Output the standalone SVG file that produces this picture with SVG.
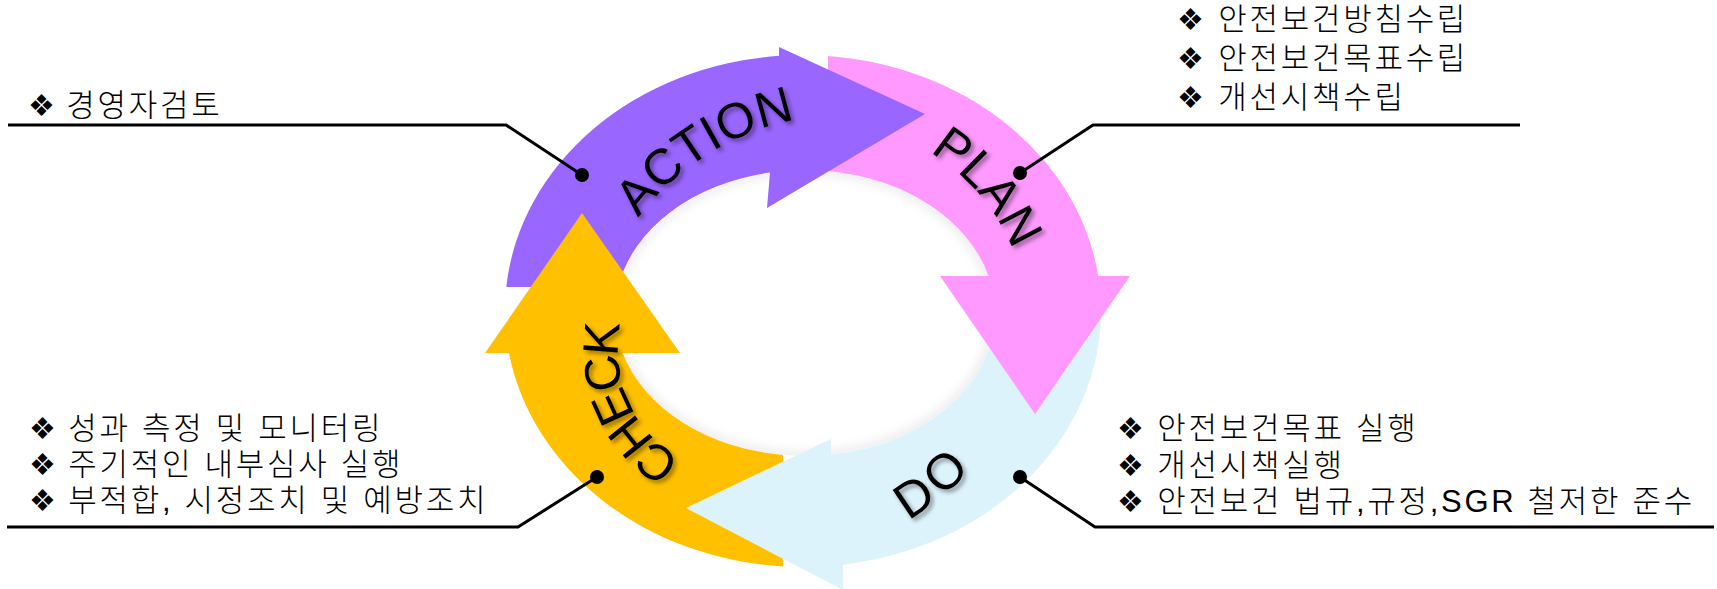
<svg xmlns="http://www.w3.org/2000/svg" xmlns:xlink="http://www.w3.org/1999/xlink" width="1717" height="589" viewBox="0 0 1717 589">
<style>
  .lbl { font-family: 'Liberation Sans', 'DejaVu Sans', sans-serif; font-size: 50px; fill: #000; filter: url(#ts); }
  .txt { font-family: 'Liberation Sans', 'Noto Sans CJK KR', 'DejaVu Sans', sans-serif; font-size: 31px; font-weight: 300; letter-spacing: 2.7px; fill: #000; }
  .bul { font-family: 'DejaVu Sans', sans-serif; font-size: 30px; letter-spacing: 0; }
  .conn { stroke: #000; stroke-width: 3; fill: none; stroke-linejoin: miter; }
  .dot { fill: #000; }
</style>
<defs>
  <filter id="ts" x="-20%" y="-20%" width="140%" height="140%">
    <feDropShadow dx="3" dy="3" stdDeviation="2" flood-color="#000" flood-opacity="0.4"/>
  </filter>
  <filter id="soft" x="-10%" y="-10%" width="120%" height="120%">
    <feGaussianBlur stdDeviation="5"/>
  </filter>
  <clipPath id="hole"><ellipse cx="805" cy="313" rx="190" ry="143"/></clipPath>
  <path id="pAction" d="M589.9,329 A259,259 0 0 1 916.4,125"/>
  <path id="pPlan" d="M825.5,121.1 A209,209 0 0 1 1027.2,357.3"/>
  <path id="pDo" d="M767.5,542.7 A216,216 0 0 0 1021,330"/>
  <path id="pCheck" d="M709.2,469.8 A123,123 0 0 1 629.5,299"/>
</defs>
<rect width="1717" height="589" fill="#fff"/>
<g clip-path="url(#hole)">
  <ellipse cx="805" cy="313" rx="190" ry="143" fill="none" stroke="#000" stroke-opacity="0.07" stroke-width="10" filter="url(#soft)"/>
</g>

<g id="do">
  <path fill="#DDF3FC" d="M1100.4,295 A298,256 0 0 1 843,564.7 L843,590 L686,508 L831,439 L831,454.7 A190,143 0 0 0 993.5,295 Z"/>
  <text class="lbl" letter-spacing="6"><textPath xlink:href="#pDo" href="#pDo" startOffset="50%" text-anchor="middle">DO</textPath></text>
  <text class="txt" y="439"><tspan class="bul" x="1117">❖</tspan><tspan x="1146"> 안전보건목표 실행</tspan></text>
  <text class="txt" y="476"><tspan class="bul" x="1117">❖</tspan><tspan x="1146"> 개선시책실행</tspan></text>
  <text class="txt" y="512"><tspan class="bul" x="1117">❖</tspan><tspan x="1146"> 안전보건 법규,규정,SGR 철저한 준수</tspan></text>
</g>

<g id="plan">
  <path fill="#FF99FF" d="M828,55.9 A298,256 0 0 1 1098.2,276 L1130,276 L1035,414 L940,276 L988.5,276 A190,143 0 0 0 828,171 Z"/>
  <text class="lbl"><textPath xlink:href="#pPlan" href="#pPlan" startOffset="50%" text-anchor="middle">PLAN</textPath></text>
  <text class="txt" y="30"><tspan class="bul" x="1177">❖</tspan><tspan x="1207"> 안전보건방침수립</tspan></text>
  <text class="txt" y="69"><tspan class="bul" x="1177">❖</tspan><tspan x="1207"> 안전보건목표수립</tspan></text>
  <text class="txt" y="108"><tspan class="bul" x="1177">❖</tspan><tspan x="1207"> 개선시책수립</tspan></text>
</g>

<g id="action">
  <path fill="#9966FF" d="M506.3,287 A298,256 0 0 1 779,55.8 L779,47 L925,114 L767,208 L770,172.5 A190,143 0 0 0 618.2,287 Z"/>
  <text class="lbl"><textPath xlink:href="#pAction" href="#pAction" startOffset="50%" text-anchor="middle">ACTION</textPath></text>
  <text class="txt" y="116"><tspan class="bul" x="28">❖</tspan><tspan x="55"> 경영자검토</tspan></text>
</g>

<g id="check">
  <path fill="#FFC000" d="M783,455 L783,461.8 L686,508 L783,558.7 L783,566.4 A298,256 0 0 1 509,353 L485,353 L582,213 L680,353 L622.6,353 A190,143 0 0 0 783,455 Z"/>
  <text class="lbl" font-size="48" letter-spacing="-4"><textPath xlink:href="#pCheck" href="#pCheck" startOffset="50%" text-anchor="middle">CHECK</textPath></text>
  <text class="txt" y="439"><tspan class="bul" x="29">❖</tspan><tspan x="57"> 성과 측정 및 모니터링</tspan></text>
  <text class="txt" y="475"><tspan class="bul" x="29">❖</tspan><tspan x="57"> 주기적인 내부심사 실행</tspan></text>
  <text class="txt" y="511"><tspan class="bul" x="29">❖</tspan><tspan x="57"> 부적합, 시정조치 및 예방조치</tspan></text>
</g>

<g id="connectors">
  <polyline class="conn" points="582,175 506,125 8,125"/>
  <polyline class="conn" points="1020,173 1093,125 1520,125"/>
  <polyline class="conn" points="597,477 518,527 7,527"/>
  <polyline class="conn" points="1020,477 1095,527 1714,527"/>
  <circle class="dot" cx="582" cy="175" r="7"/>
  <circle class="dot" cx="1020" cy="173" r="7"/>
  <circle class="dot" cx="597" cy="477" r="7"/>
  <circle class="dot" cx="1020" cy="477" r="7"/>
</g>
</svg>
